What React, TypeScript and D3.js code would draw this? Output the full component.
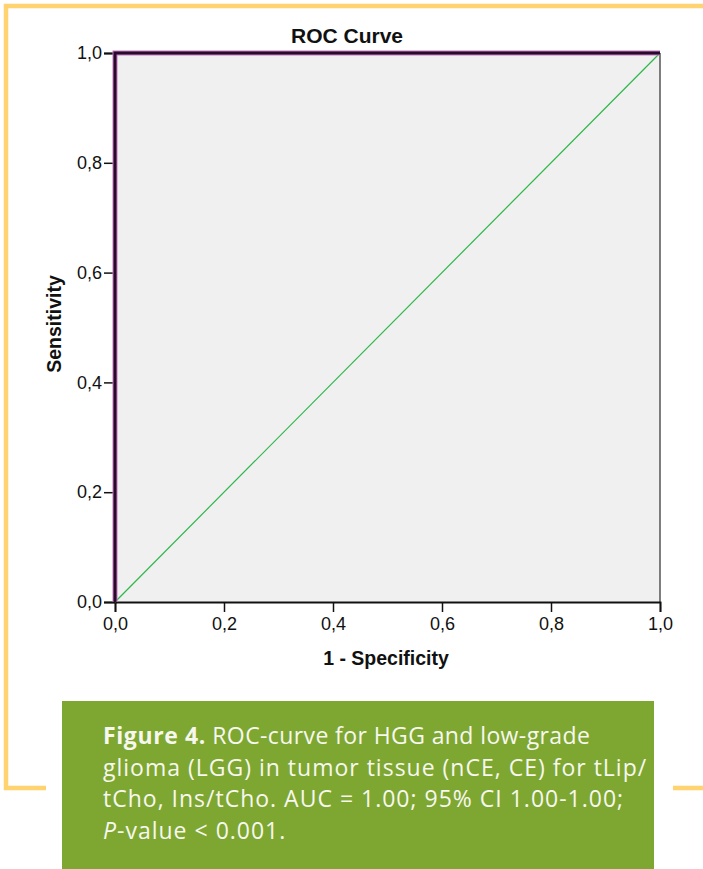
import React, { useEffect, useRef } from "react";
import * as d3 from "d3";

// ROC curve points (1 - specificity, sensitivity)
const rocFpr = [0, 0, 1];
const rocTpr = [0, 1, 1];
// chance diagonal
const refFpr = [0, 1];
const refTpr = [0, 1];
const tickValues = [0, 0.2, 0.4, 0.6, 0.8, 1.0];

const chartTitle = "ROC Curve";
const xLabel = "1 - Specificity";
const yLabel = "Sensitivity";

const captionBold = "Figure 4.";
const captionLines = [
  " ROC-curve for HGG and low-grade",
  "glioma (LGG) in tumor tissue (nCE, CE) for tLip/",
  "tCho, Ins/tCho. AUC = 1.00; 95% CI 1.00-1.00;",
  "-value < 0.001.",
];

function App() {
  const ref = useRef<SVGSVGElement>(null);

  useEffect(() => {
    drawChart();
  }, []);

  const drawChart = () => {
    const svg = d3.select(ref.current);
    svg.selectAll("*").remove();

    const W = 703, H = 869;
    const yellow = "#ffd36f";

    // yellow page frame
    svg.append("path")
      .attr("d", `M6,790 L6,6 L703,6`)
      .attr("fill", "none")
      .attr("stroke", yellow)
      .attr("stroke-width", 4.5);
    svg.append("line")
      .attr("x1", 4).attr("x2", 46).attr("y1", 788).attr("y2", 788)
      .attr("stroke", yellow).attr("stroke-width", 4.5);
    svg.append("line")
      .attr("x1", 673).attr("x2", W).attr("y1", 788).attr("y2", 788)
      .attr("stroke", yellow).attr("stroke-width", 4.5);

    // plot area
    const left = 115, right = 660, top = 53, bottom = 602;
    const x = d3.scaleLinear().domain([0, 1]).range([left, right]);
    const y = d3.scaleLinear().domain([0, 1]).range([bottom, top]);
    const fmt = (d: number) => d3.format(".1f")(d).replace(".", ",");
    const arial = "'Liberation Sans', Arial, sans-serif";

    svg.append("rect")
      .attr("x", left).attr("y", top)
      .attr("width", right - left).attr("height", bottom - top)
      .attr("fill", "#f0f0f0");

    // right border
    svg.append("line")
      .attr("x1", right).attr("x2", right).attr("y1", top).attr("y2", bottom)
      .attr("stroke", "#555").attr("stroke-width", 1.5);

    // axes
    const xAxis = svg.append("g")
      .attr("transform", `translate(0,${bottom})`)
      .call(d3.axisBottom(x).tickValues(tickValues).tickFormat(fmt as any).tickSize(10).tickPadding(5));
    const yAxis = svg.append("g")
      .attr("transform", `translate(${left},0)`)
      .call(d3.axisLeft(y).tickValues(tickValues).tickFormat(fmt as any).tickSize(11).tickPadding(2));
    [xAxis, yAxis].forEach(g => {
      g.select(".domain").attr("stroke", "#111").attr("stroke-width", 1.8);
      g.selectAll(".tick line").attr("stroke", "#111").attr("stroke-width", 1.5);
      g.selectAll(".tick text")
        .attr("fill", "#111")
        .style("font-size", "18px")
        .style("font-family", arial);
    });

    // reference diagonal
    const line = d3.line<[number, number]>().x(d => x(d[0])).y(d => y(d[1]));
    svg.append("path")
      .datum(refFpr.map((v, i) => [v, refTpr[i]] as [number, number]))
      .attr("d", line)
      .attr("fill", "none")
      .attr("stroke", "#2fb64a")
      .attr("stroke-width", 1.2);

    // ROC curve with light purple halo
    const rocData = rocFpr.map((v, i) => [v, rocTpr[i]] as [number, number]);
    svg.append("path")
      .datum(rocData)
      .attr("d", line)
      .attr("fill", "none")
      .attr("stroke", "#c07ac0")
      .attr("stroke-width", 5);
    svg.append("path")
      .datum(rocData)
      .attr("d", line)
      .attr("fill", "none")
      .attr("stroke", "#2a0a2a")
      .attr("stroke-width", 3);

    // titles
    svg.append("text")
      .attr("x", 347).attr("y", 43)
      .attr("text-anchor", "middle")
      .style("font-family", arial).style("font-weight", "bold").style("font-size", "21px")
      .attr("fill", "#111")
      .text(chartTitle);
    svg.append("text")
      .attr("x", 386).attr("y", 665)
      .attr("text-anchor", "middle")
      .style("font-family", arial).style("font-weight", "bold").style("font-size", "19.5px")
      .attr("fill", "#111")
      .text(xLabel);
    svg.append("text")
      .attr("transform", `translate(61,324) rotate(-90)`)
      .attr("text-anchor", "middle")
      .style("font-family", arial).style("font-weight", "bold").style("font-size", "19.5px")
      .attr("fill", "#111")
      .text(yLabel);

    // caption box
    svg.append("rect")
      .attr("x", 62).attr("y", 701)
      .attr("width", 592).attr("height", H - 701)
      .attr("fill", "#7ea731");

    const capFont = "'Open Sans', Lato, sans-serif";
    const baselines = [744, 776, 807, 839];
    const cap = svg.append("g")
      .style("font-family", capFont)
      .style("font-size", "23px")
      .style("letter-spacing", "1px")
      .attr("fill", "#f7f7ef");

    const t0 = cap.append("text").attr("x", 103).attr("y", baselines[0]);
    t0.append("tspan").style("font-weight", "bold").style("letter-spacing", "0.6px").text(captionBold);
    t0.append("tspan").style("letter-spacing", "0.4px").text(captionLines[0]);
    cap.append("text").attr("x", 103).attr("y", baselines[1]).text(captionLines[1]);
    cap.append("text").attr("x", 103).attr("y", baselines[2]).text(captionLines[2]);
    const t3 = cap.append("text").attr("x", 103).attr("y", baselines[3]);
    t3.append("tspan").style("font-style", "italic").text("P");
    t3.append("tspan").text(captionLines[3]);
  };

  return (
    <svg
      ref={ref}
      width={703}
      height={869}
      style={{ position: "absolute", left: 0, top: 0, background: "#fff" }}
    />
  );
}

export default App;
